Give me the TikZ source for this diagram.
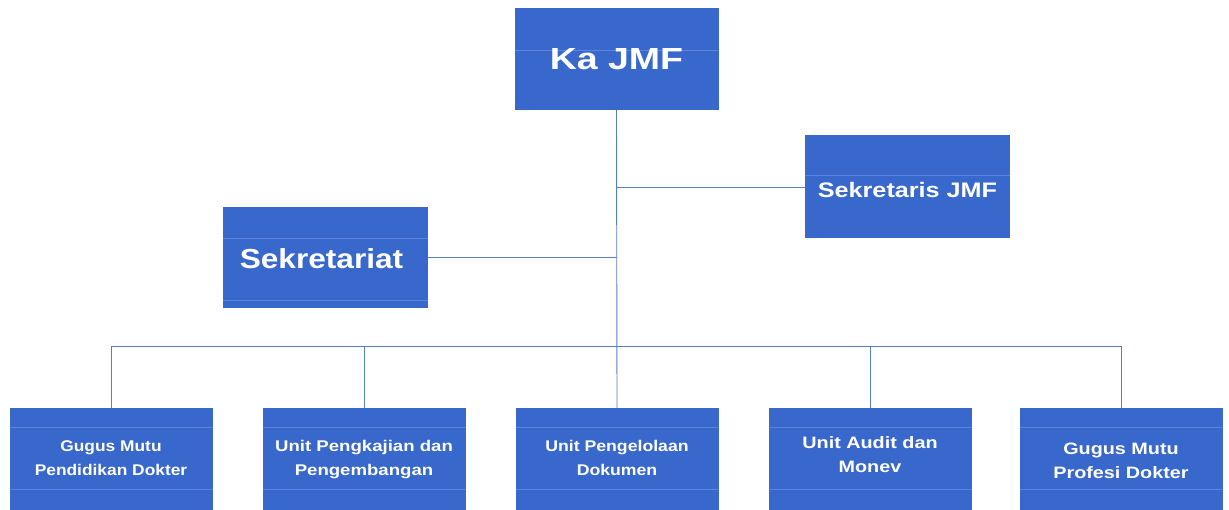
\documentclass[tikz,border=0pt]{standalone}
\usepackage{fontspec}
\usepackage{graphicx}
\setmainfont{Liberation Sans}
\definecolor{boxblue}{RGB}{56,104,204}
\definecolor{streak}{RGB}{92,132,220}
\definecolor{linkblue}{RGB}{88,126,196}
\newcommand\wtext[3]{\raisebox{#2}[\height][\depth]{\scalebox{#1}[1]{\begin{tabular}{@{}c@{}}#3\end{tabular}}}}
\begin{document}
\begin{tikzpicture}[x=1pt,y=-1pt,
  orgbox/.style={fill=boxblue,draw=none,text=white,font=\bfseries,inner sep=0pt,anchor=center},
  streaks/.style 2 args={path picture={
     \draw[streak,line width=0.6pt] ([yshift=-#1]path picture bounding box.north west) -- ([yshift=-#1]path picture bounding box.north east);
     \draw[streak,line width=0.6pt] ([yshift=#2]path picture bounding box.south west) -- ([yshift=#2]path picture bounding box.south east);}},
  topbox/.style={orgbox,minimum width=204pt,minimum height=102pt},
  unitbox/.style={orgbox,minimum width=203pt,minimum height=102pt,font=\bfseries\fontsize{15.5}{23.5}\selectfont,streaks={19pt}{21pt}},
  bigunit/.style={font=\bfseries\fontsize{16.5}{23.5}\selectfont},
  link/.style={draw=linkblue,line width=0.9pt}]
\useasboundingbox (0,0) rectangle (1229,510);
\fill[white] (0,0) rectangle (1229,510);
% boxes
\node[topbox,streaks={42pt}{-5pt},font=\bfseries\fontsize{30.5}{36}\selectfont] (ka) at (616.5,59) {\wtext{1.23}{-3pt}{Ka JMF}};
\node[topbox,streaks={40pt}{-5pt},minimum width=205pt,minimum height=103pt,font=\bfseries\fontsize{21}{25}\selectfont] (sek) at (907.5,187) {\wtext{1.2}{-6pt}{Sekretaris JMF}};
\node[topbox,streaks={31pt}{8pt},minimum width=205pt,minimum height=101pt,font=\bfseries\fontsize{27.5}{32}\selectfont] (sat) at (325.5,257.5) {\wtext{1.15}{-5pt}{Sekretariat}\hspace*{8pt}};
\node[unitbox] (b1) at (111,459) {\wtext{1.12}{0pt}{Gugus Mutu\\Pendidikan Dokter}};
\node[unitbox] (b2) at (364,459) {\wtext{1.2}{0pt}{Unit Pengkajian dan\\Pengembangan}};
\node[unitbox] (b3) at (617,459) {\wtext{1.14}{0pt}{Unit Pengelolaan\\Dokumen}};
\node[unitbox,bigunit] (b4) at (870,459) {\wtext{1.2}{3pt}{Unit Audit dan\\Monev}};
\node[unitbox,bigunit] (b5) at (1121,459) {\wtext{1.2}{-3pt}{Gugus Mutu\\Profesi Dokter}};
% connectors
\coordinate (bus) at (617,346);
\draw[link] (ka.south) -- (b3.north);
\draw[link] (sek.west) -- (sek.west -| ka.south);
\draw[link] (sat.east) -- (sat.east -| ka.south);
\draw[link] (b1.north) -- (b1.north |- bus) -- (b5.north |- bus) -- (b5.north);
\draw[link] (b2.north) -- (b2.north |- bus);
\draw[link] (b4.north) -- (b4.north |- bus);
\end{tikzpicture}
\end{document}
